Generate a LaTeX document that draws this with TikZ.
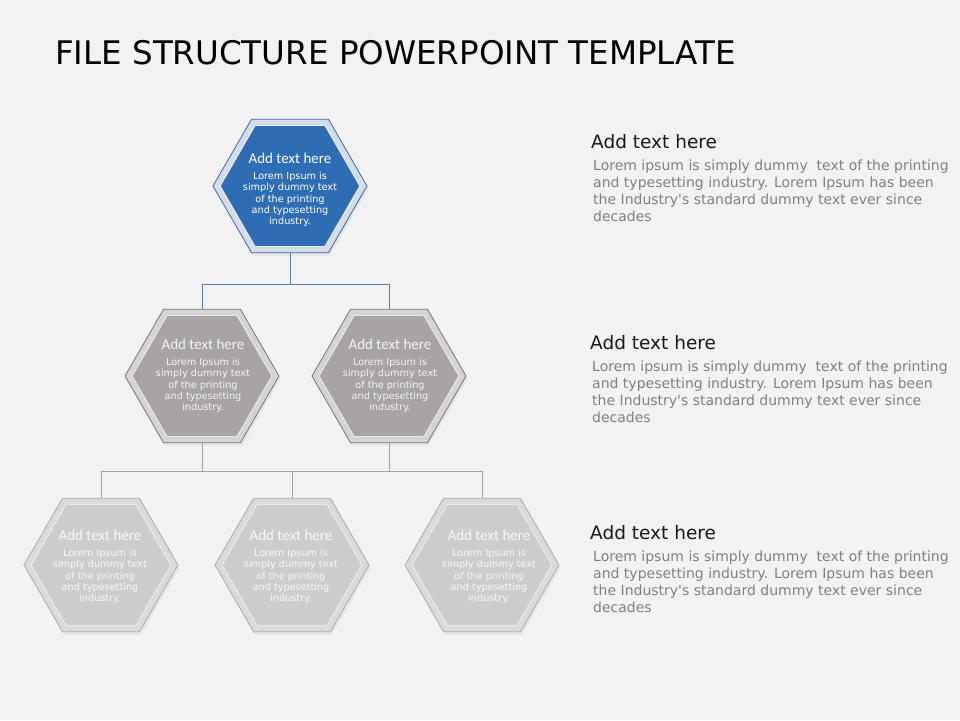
\documentclass[tikz,border=0pt]{standalone}
\usepackage{fontspec}
\setmainfont{DejaVu Sans}
\newfontfamily\carlito{Carlito}
\usetikzlibrary{shapes.geometric,shadows}
\definecolor{bg}{HTML}{F2F2F2}
\definecolor{topOut}{HTML}{D3DCE7}
\definecolor{topLine}{HTML}{3B6AA6}
\definecolor{topIn}{HTML}{2E6DB4}
\definecolor{midOut}{HTML}{D4D4D4}
\definecolor{midLine}{HTML}{767676}
\definecolor{midIn}{HTML}{A9A4A4}
\definecolor{botOut}{HTML}{D9D9D9}
\definecolor{botLine}{HTML}{AEAEAE}
\definecolor{botIn}{HTML}{CDCDCD}
\definecolor{connBlue}{HTML}{5B7BAE}
\definecolor{connGray}{HTML}{A3A3A3}
\definecolor{bodyGray}{HTML}{808080}
\tikzset{
  hexout/.style={regular polygon, regular polygon sides=6, minimum size=154pt,
    inner sep=0pt, outer sep=0pt, line width=0.8pt,
    drop shadow={opacity=0.10, shadow xshift=1.5pt, shadow yshift=-3pt}},
  hexin/.style={regular polygon, regular polygon sides=6, minimum size=140pt,
    inner sep=0pt, outer sep=0pt, line width=1.2pt},
  hexhead/.style={inner sep=0pt, font=\carlito\fontsize{15}{18}\selectfont},
  hexbody/.style={inner sep=0pt, anchor=north, align=center,
    font=\fontsize{9.7}{11.3}\selectfont},
  sidehead/.style={inner sep=0pt, anchor=base west, text=black!90,
    font=\fontsize{18.5}{22}\selectfont},
  sidebody/.style={inner sep=0pt, anchor=north west, align=left, text=bodyGray,
    font=\fontsize{14}{17}\selectfont},
  conn1/.style={draw=connBlue, line width=0.9pt},
  conn2/.style={draw=connGray, line width=0.8pt}
}
\newcommand{\hexbodytext}{Lorem Ipsum is\\simply dummy text\\of the printing\\and typesetting\\industry.}
\newcommand{\sidebodytext}{Lorem ipsum is simply dummy\ \ text of the printing\\and typesetting industry. Lorem Ipsum has been\\the Industry\textquotesingle s standard dummy text ever since\\decades}
\begin{document}
\begin{tikzpicture}[x=1pt,y=-1pt]
\fill[bg] (0,0) rectangle (960,720);
\useasboundingbox (0,0) rectangle (960,720);

% title
\node[inner sep=0pt, anchor=base west, font=\fontsize{32.5}{38}\selectfont] (title) at (55,64) {FILE STRUCTURE POWERPOINT TEMPLATE};

% bus coordinates
\coordinate (bus1) at (0,284);
\coordinate (bus2) at (0,471);

% hexagon positions (outer shapes)
\path (290,186) node[hexout, fill=topOut, draw=topLine] (h1) {};
\path (202,376) node[hexout, fill=midOut, draw=midLine] (h2a) {};
\path (389,376) node[hexout, fill=midOut, draw=midLine] (h2b) {};
\path (101,565) node[hexout, fill=botOut, draw=botLine] (h3a) {};
\path (292,565) node[hexout, fill=botOut, draw=botLine] (h3b) {};
\path (482,565) node[hexout, fill=botOut, draw=botLine] (h3c) {};

% connectors
\draw[conn1] (h1.south) -- (h1.south |- bus1);
\draw[conn1] (h2a.north) -- (h2a.north |- bus1) -- (h2b.north |- bus1) -- (h2b.north);
\draw[conn2] (h2a.south) -- (h2a.south |- bus2);
\draw[conn2] (h2b.south) -- (h2b.south |- bus2);
\draw[conn2] (h3a.north) -- (h3a.north |- bus2) -- (h3c.north |- bus2) -- (h3c.north);
\draw[conn2] (h3b.north) -- (h3b.north |- bus2);

% inner hexagons
\node[hexin, fill=topIn, draw=white!45!topOut] (i1) at (h1) {};
\node[hexin, fill=midIn, draw=white!40!midOut] (i2a) at (h2a) {};
\node[hexin, fill=midIn, draw=white!40!midOut] (i2b) at (h2b) {};
\node[hexin, fill=botIn, draw=white!35!botOut] (i3a) at (h3a) {};
\node[hexin, fill=botIn, draw=white!35!botOut] (i3b) at (h3b) {};
\node[hexin, fill=botIn, draw=white!35!botOut] (i3c) at (h3c) {};

% hexagon texts
\node[hexhead, text=white] (th1) at (290,158) {Add text here};
\node[hexbody, text=white] (tb1) at (290,172) {\hexbodytext};
\node[hexhead, text=white!95!black] (th2a) at (203,344) {Add text here};
\node[hexbody, text=white!95!black] (tb2a) at (203,358) {\hexbodytext};
\node[hexhead, text=white!95!black] (th2b) at (390,344) {Add text here};
\node[hexbody, text=white!95!black] (tb2b) at (390,358) {\hexbodytext};
\node[hexhead, text=white!96!black] (th3a) at (100,535) {Add text here};
\node[hexbody, text=white!96!black] (tb3a) at (100,549) {\hexbodytext};
\node[hexhead, text=white!96!black] (th3b) at (291,535) {Add text here};
\node[hexbody, text=white!96!black] (tb3b) at (291,549) {\hexbodytext};
\node[hexhead, text=white!96!black] (th3c) at (489,535) {Add text here};
\node[hexbody, text=white!96!black] (tb3c) at (489,549) {\hexbodytext};

% side texts
\node[sidehead] (sh1) at (591,148) {Add text here};
\node[sidebody] (sb1) at (593,159.5) {\sidebodytext};
\node[sidehead] (sh2) at (590,349) {Add text here};
\node[sidebody] (sb2) at (592,360.5) {\sidebodytext};
\node[sidehead] (sh3) at (590,539) {Add text here};
\node[sidebody] (sb3) at (593,550.5) {\sidebodytext};
\end{tikzpicture}
\end{document}
